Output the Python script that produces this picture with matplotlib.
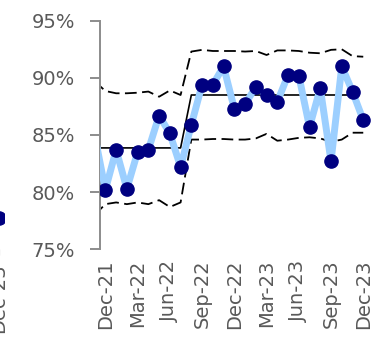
import numpy as np
import pandas as pd
import matplotlib
matplotlib.use("Agg")
import matplotlib.pyplot as plt
from matplotlib.ticker import FuncFormatter

# ---------------------------------------------------------------------------
# Data (Nov-21 .. Dec-23, monthly, in %)
# ---------------------------------------------------------------------------
months = pd.date_range("2021-11-01", periods=26, freq="MS").strftime("%b-%y").tolist()

rate = [85.0, 80.2, 83.7, 80.3, 83.5, 83.7, 86.7, 85.15, 82.2, 85.9,
        89.4, 89.4, 91.0, 87.3, 87.7, 89.2, 88.5, 87.9, 90.25, 90.2,
        85.7, 89.1, 82.7, 91.0, 88.8, 86.3]

centre = [83.87] * 9 + [88.5] * 16 + [np.nan]

ucl = [89.7, 88.85, 88.65, 88.65, 88.7, 88.8, 88.35, 88.9, 88.5, 92.3,
       92.45, 92.35, 92.35, 92.35, 92.3, 92.35, 92.0, 92.4, 92.4, 92.35,
       92.2, 92.15, 92.45, 92.5, 91.9, 91.85]

lcl = [78.0, 78.95, 79.1, 78.95, 79.1, 78.95, 79.3, 78.7, 79.1, 84.6,
       84.6, 84.65, 84.65, 84.6, 84.6, 84.7, 85.1, 84.5, 84.6, 84.75,
       84.8, 84.7, 84.4, 84.6, 85.2, 85.2]

tick_months = ["Dec-21", "Mar-22", "Jun-22", "Sep-22", "Dec-22",
               "Mar-23", "Jun-23", "Sep-23", "Dec-23"]

# neighbouring chart, only its last point shows at the left edge
left_months = ["Dec-23"]
left_rate = [77.7]

GREY = "#595959"
LIGHT = "#9ccfff"
NAVY = "#000080"

plt.rcParams["font.family"] = "DejaVu Sans"

W, H = 374, 340
fig = plt.figure(figsize=(W / 100, H / 100), dpi=100)

x = np.arange(len(months))
pct = FuncFormatter(lambda v, _: f"{v:.0f}%")
XMIN, XMAX = 0.5, 26

# ---- main chart ----
ax = fig.add_axes([100 / W, 90.7 / H, 274 / W, 228.6 / H])
ax.plot(x, ucl, color="black", lw=1.3, dashes=(6.5, 3), zorder=2)
ax.plot(x, lcl, color="black", lw=1.3, dashes=(6.5, 3), zorder=2)
ax.plot(x, centre, color="black", lw=1.2, zorder=2)
ax.plot(x, rate, color=LIGHT, lw=5, zorder=3)
# markers only for months inside the visible window (Nov-21 sits off the edge)
shown = x > XMIN
ax.plot(x[shown], np.array(rate)[shown], ls="none", marker="o", ms=9.5,
        color=NAVY, zorder=4)

ax.set_xlim(XMIN, XMAX)
ax.set_ylim(75, 95)
ax.set_yticks([75, 80, 85, 90, 95])
ax.yaxis.set_major_formatter(pct)
ax.set_xticks([months.index(m) for m in tick_months])
ax.set_xticklabels(tick_months, rotation=90)

for s in ["top", "right", "bottom"]:
    ax.spines[s].set_visible(False)
ax.spines["left"].set_color("#8c8c8c")
ax.spines["left"].set_linewidth(1.4)
ax.tick_params(axis="y", length=7, width=1.4, color="#8c8c8c", pad=11,
               labelsize=14, labelcolor=GREY)
ax.tick_params(axis="x", length=0, pad=7.5, labelsize=14, labelcolor=GREY)

# ---- clipped neighbour chart on the left ----
ax0 = fig.add_axes([-270 / W, 90.7 / H, 274 / W, 228.6 / H])
ax0.plot([24], left_rate, ls="none", marker="o", ms=9.5, color=NAVY)
ax0.set_xlim(-0.5, 24.5)
ax0.set_ylim(75, 95)
ax0.set_yticks([])
ax0.set_xticks([24])
ax0.set_xticklabels(left_months, rotation=90)
ax0.tick_params(axis="x", length=4, color="#8c8c8c", pad=6,
                labelsize=14, labelcolor=GREY)
for s in ax0.spines.values():
    s.set_visible(False)
ax0.patch.set_alpha(0)

fig.savefig("out.png", dpi=100)
